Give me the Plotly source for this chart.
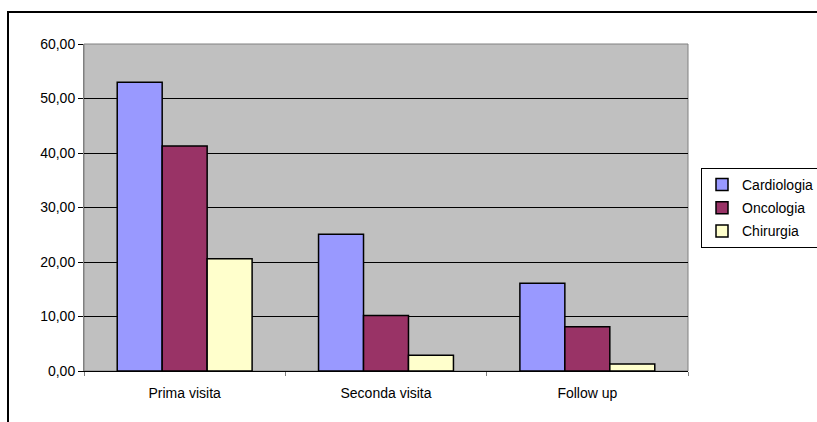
import plotly.graph_objects as go

categories = ["Prima visita", "Seconda visita", "Follow up"]
cardiologia = [53.0, 25.1, 16.1]
oncologia = [41.3, 10.2, 8.1]
chirurgia = [20.6, 2.9, 1.3]
series_names = ["Cardiologia", "Oncologia", "Chirurgia"]
colors = ["#9999FF", "#993366", "#FFFFCC"]
y_ticks = [0, 10, 20, 30, 40, 50, 60]

fig = go.Figure()
for name, vals, col in zip(series_names, [cardiologia, oncologia, chirurgia], colors):
    fig.add_trace(go.Bar(x=categories, y=vals, name=name, legendgroup=name,
                         marker=dict(color=col, line=dict(color="black", width=1.5))))

L, R, T, B = 84, 129, 44, 51
W, H = 817, 422
pw, ph = W - L - R, H - T - B

fig.update_layout(
    width=W, height=H,
    margin=dict(l=L, r=R, t=T, b=B, pad=0, autoexpand=False),
    paper_bgcolor="white", plot_bgcolor="#C0C0C0",
    barmode="group", bargap=0.33, bargroupgap=0,
    separators=",.",
    font=dict(family="Liberation Sans, Arial, sans-serif", size=14, color="black"),
    legend=dict(x=(701 - L) / pw, y=1 - (168 - T) / ph, xanchor="left", yanchor="top",
                bordercolor="black", borderwidth=1, bgcolor="white",
                font=dict(size=14), itemwidth=30, tracegroupgap=2),
    showlegend=True,
    shapes=[
        dict(type="rect", xref="paper", yref="paper", x0=0, x1=1, y0=0, y1=1,
             line=dict(color="#808080", width=1), layer="below"),
        dict(type="rect", xref="paper", yref="paper",
             x0=(8 - L) / pw, x1=1.4, y0=-0.4, y1=1 + (T - 12) / ph,
             line=dict(color="black", width=2)),
    ],
)
fig.update_xaxes(showline=True, linecolor="black", linewidth=1,
                 ticks="outside", tickson="boundaries", ticklen=4, tickcolor="#808080",
                 ticklabelstandoff=9,
                 showgrid=False, tickfont=dict(size=14))
fig.update_yaxes(range=[0, 60], tickvals=y_ticks, tickformat=".2f",
                 showline=True, linecolor="#808080", linewidth=1,
                 ticks="outside", ticklen=5, tickcolor="black",
                 showgrid=True, gridcolor="black", gridwidth=1,
                 zeroline=False, tickfont=dict(size=14))

fig.write_html("out.html")
